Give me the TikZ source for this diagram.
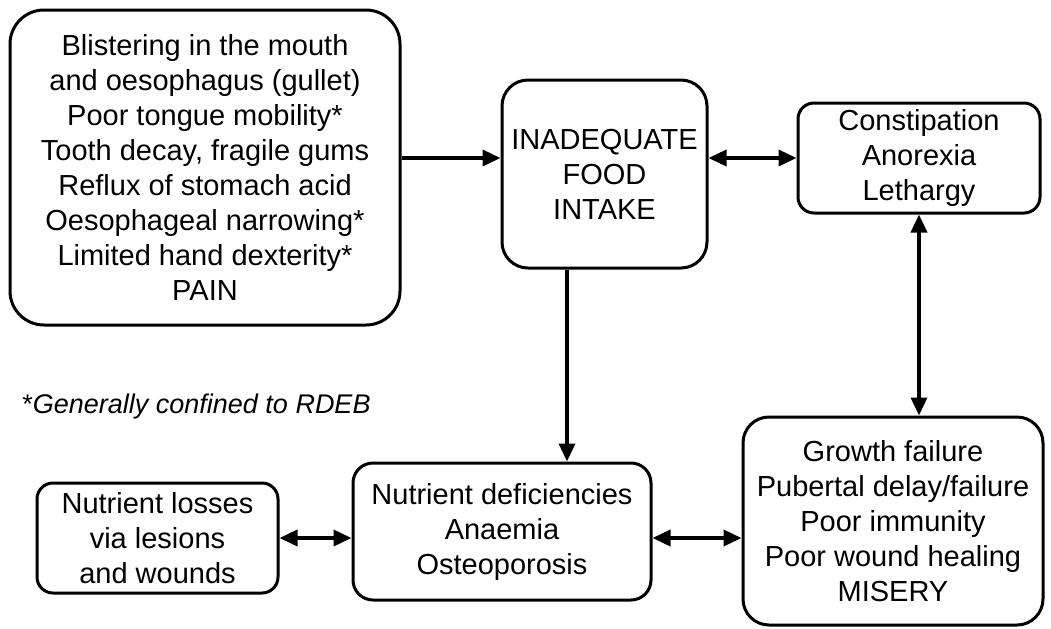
\documentclass[tikz,border=0pt]{standalone}
\usepackage{fontspec}
\setmainfont{Liberation Sans}
\usetikzlibrary{arrows.meta}

\begin{document}
\begin{tikzpicture}[x=0.5pt, y=-0.5pt,
    box/.style={draw, line width=1.5pt, align=center, inner sep=0pt, font=\fontsize{14.5}{17.5}\selectfont},
    note/.style={font=\fontsize{13.5}{16}\selectfont, anchor=west, inner sep=0pt},
    flow/.style={-{Triangle[length=9pt, width=8pt]}, line width=1.8pt},
    link/.style={{Triangle[length=9pt, width=8pt]}-{Triangle[length=9pt, width=8pt]}, line width=1.8pt}
  ]
  \useasboundingbox (0,0) rectangle (1051,628);

  \node[box, rounded corners=17pt, minimum width=195pt, minimum height=157.5pt] (causes) at (205,167.5)
    {Blistering in the mouth\\and oesophagus (gullet)\\Poor tongue mobility*\\Tooth decay, fragile gums\\Reflux of stomach acid\\Oesophageal narrowing*\\Limited hand dexterity*\\PAIN};
  \node[box, rounded corners=13pt, minimum width=102.5pt, minimum height=94pt] (intake) at (604.5,174)
    {INADEQUATE\\FOOD\\INTAKE};
  \node[box, rounded corners=8pt, minimum width=121pt, minimum height=55pt] (gut) at (919,158)
    {Constipation\\Anorexia\\Lethargy};
  \node[box, rounded corners=13pt, minimum width=150pt, minimum height=104pt] (growth) at (893,521)
    {Growth failure\\Pubertal delay/failure\\Poor immunity\\Poor wound healing\\MISERY};
  \node[box, rounded corners=10pt, minimum width=149pt, minimum height=68.5pt] (defic) at (502,531.5)
    {Nutrient deficiencies\\Anaemia\\Osteoporosis};
  \node[box, rounded corners=8pt, minimum width=120.5pt, minimum height=55pt] (losses) at (157.5,538)
    {Nutrient losses\\via lesions\\and wounds};

  \node[note] (fn) at (22,407) {*\textit{Generally confined to RDEB}};

  \draw[flow] (causes.east |- gut.west) -- (intake.west |- gut.west);
  \draw[link] (intake.east |- gut.west) -- (gut.west);
  \draw[link] (gut.south) -- (gut.south |- growth.north);
  \draw[flow] ([xshift=-18.75pt]intake.south) -- ([xshift=-18.75pt]intake.south |- defic.north);
  \draw[link] (losses.east) -- (losses.east -| defic.west);
  \draw[link] (defic.east |- losses.east) -- (growth.west |- losses.east);
\end{tikzpicture}
\end{document}
